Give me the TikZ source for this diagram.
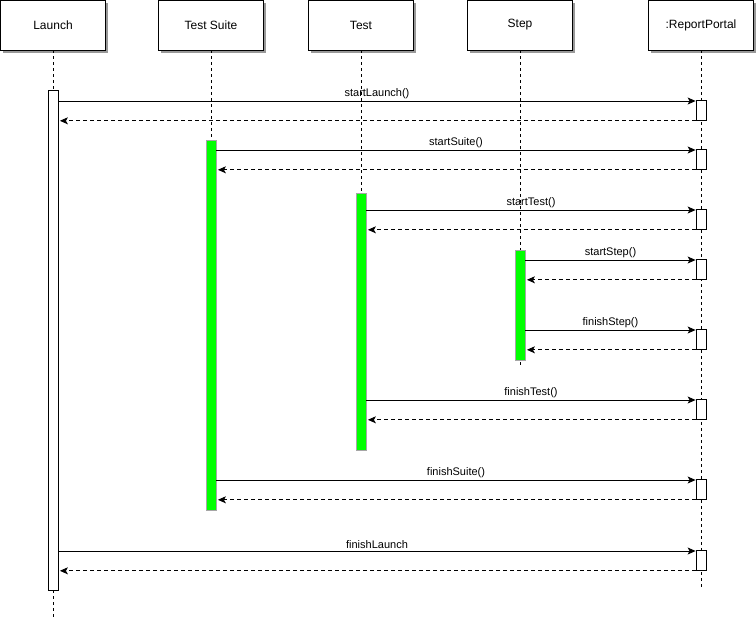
\documentclass[tikz,border=0pt]{standalone}
\usepackage{fontspec}
\setmainfont{Liberation Sans}
\usetikzlibrary{arrows.meta,shadows}
\definecolor{barGreen}{HTML}{00FF00}

\begin{document}
\begin{tikzpicture}[x=1pt,y=-1pt,
    head/.style={draw, line width=0.8pt, fill=white, minimum width=105pt, minimum height=50pt, inner sep=0pt,
      font=\fontsize{12}{14}\selectfont, drop shadow={shadow xshift=2.5pt, shadow yshift=-2.5pt, fill=black!40, opacity=1}},
    lifeline/.style={line width=0.8pt, dash pattern=on 3pt off 3pt},
    actbar/.style={draw, line width=0.8pt, fill=white, minimum width=10pt, inner sep=0pt, anchor=north},
    greenbar/.style={draw=gray!70, line width=0.8pt, fill=barGreen, minimum width=10pt, inner sep=0pt, anchor=north},
    rpbox/.style={draw, line width=0.8pt, fill=white, minimum width=10pt, minimum height=20pt, inner sep=0pt, anchor=north},
    call/.style={line width=0.8pt, -{Stealth[length=8pt,width=7pt,inset=2pt]}},
    ret/.style={call, dash pattern=on 4pt off 3pt, shorten >=1.5pt},
    lbl/.style={above, inner sep=2pt, font=\fontsize{11}{13}\selectfont}]
      \useasboundingbox (0,0) rectangle (756,622);

      % Draw the participants
      \node[head] (launch) at (53,25) {Launch};
      \node[head] (suite) at (211,25) {Test Suite};
      \node[head] (test) at (361,25) {Test};
      \node[head] (step) at (520,25) {Step};
      \node[head] (rp) at (701,25) {:ReportPortal};

      % Draw the lifelines
      \coordinate (launchend) at (53,620);
      \coordinate (stepend) at (520,368);
      \coordinate (rpend) at (701,587);
      \draw[lifeline] (launch.south) -- (launchend);
      \draw[lifeline] (step.south) -- (stepend);
      \draw[lifeline] (rp.south) -- (rpend);

      % Draw the activation bars
      \node[actbar, minimum height=500pt] (launchbar) at (53,90) {};
      \node[greenbar, minimum height=370pt] (suitebar) at (211,140) {};
      \node[greenbar, minimum height=257pt] (testbar) at (361,193) {};
      \node[greenbar, minimum height=110pt] (stepbar) at (520,250) {};
      \draw[lifeline] (suite.south) -- (suitebar.north);
      \draw[lifeline] (test.south) -- (testbar.north);

      % Draw the ReportPortal boxes
      \node[rpbox] (rp1) at (701,100) {};
      \node[rpbox] (rp2) at (701,149) {};
      \node[rpbox] (rp3) at (701,209) {};
      \node[rpbox] (rp4) at (701,259) {};
      \node[rpbox] (rp5) at (701,329) {};
      \node[rpbox] (rp6) at (701,399) {};
      \node[rpbox] (rp7) at (701,479) {};
      \node[rpbox] (rp8) at (701,550) {};

      % Draw the calls and the returns
      \draw[call] ([yshift=-1pt]launchbar.east |- rp1.north) -- ([yshift=-1pt]rp1.north west) node[lbl, midway] {startLaunch()};
      \draw[ret] (rp1.south west) -- (launchbar.east |- rp1.south);
      \draw[call] ([yshift=-1pt]suitebar.east |- rp2.north) -- ([yshift=-1pt]rp2.north west) node[lbl, midway] {startSuite()};
      \draw[ret] (rp2.south west) -- (suitebar.east |- rp2.south);
      \draw[call] ([yshift=-1pt]testbar.east |- rp3.north) -- ([yshift=-1pt]rp3.north west) node[lbl, midway] {startTest()};
      \draw[ret] (rp3.south west) -- (testbar.east |- rp3.south);
      \draw[call] ([yshift=-1pt]stepbar.east |- rp4.north) -- ([yshift=-1pt]rp4.north west) node[lbl, midway] {startStep()};
      \draw[ret] (rp4.south west) -- (stepbar.east |- rp4.south);
      \draw[call] ([yshift=-1pt]stepbar.east |- rp5.north) -- ([yshift=-1pt]rp5.north west) node[lbl, midway] {finishStep()};
      \draw[ret] (rp5.south west) -- (stepbar.east |- rp5.south);
      \draw[call] ([yshift=-1pt]testbar.east |- rp6.north) -- ([yshift=-1pt]rp6.north west) node[lbl, midway] {finishTest()};
      \draw[ret] (rp6.south west) -- (testbar.east |- rp6.south);
      \draw[call] ([yshift=-1pt]suitebar.east |- rp7.north) -- ([yshift=-1pt]rp7.north west) node[lbl, midway] {finishSuite()};
      \draw[ret] (rp7.south west) -- (suitebar.east |- rp7.south);
      \draw[call] ([yshift=-1pt]launchbar.east |- rp8.north) -- ([yshift=-1pt]rp8.north west) node[lbl, midway] {finishLaunch};
      \draw[ret] (rp8.south west) -- (launchbar.east |- rp8.south);
\end{tikzpicture}
\end{document}
